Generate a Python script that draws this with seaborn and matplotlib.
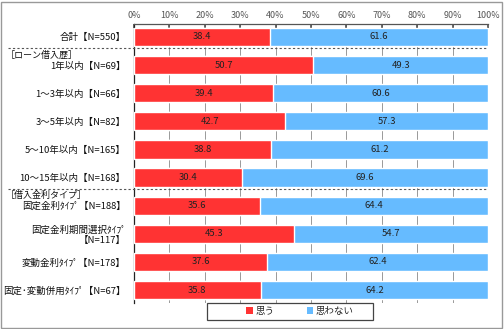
import matplotlib
matplotlib.use("Agg")
import matplotlib.pyplot as plt
import matplotlib.transforms as mtransforms
from matplotlib.patches import Patch, Rectangle
from matplotlib.lines import Line2D
import seaborn as sns
import pandas as pd
import numpy as np

categories = [
    "合計【N=550】",
    "1年以内【N=69】",
    "1～3年以内【N=66】",
    "3～5年以内【N=82】",
    "5～10年以内【N=165】",
    "10～15年以内【N=168】",
    "固定金利ﾀｲﾌﾟ【N=188】",
    "固定金利期間選択ﾀｲﾌﾟ\n【N=117】",
    "変動金利ﾀｲﾌﾟ【N=178】",
    "固定･変動併用ﾀｲﾌﾟ【N=67】",
]
omou = [38.4, 50.7, 39.4, 42.7, 38.8, 30.4, 35.6, 45.3, 37.6, 35.8]
omowanai = [61.6, 49.3, 60.6, 57.3, 61.2, 69.6, 64.4, 54.7, 62.4, 64.2]
series_names = ["思う", "思わない"]
group_headers = ["［ローン借入歴］", "［借入金利タイプ］"]
xticks = [0, 10, 20, 30, 40, 50, 60, 70, 80, 90, 100]

RED = "#FF3333"
BLUE = "#66BBFF"

sns.set_theme(style="white")
plt.rcParams["font.family"] = ["Noto Sans CJK JP", "DejaVu Sans"]

df = pd.DataFrame({"cat": categories, "omou": omou, "omowanai": omowanai})
df["total"] = df["omou"] + df["omowanai"]

fig = plt.figure(figsize=(5.04, 3.29), dpi=100)
ax = fig.add_axes([134/504, 1-303/329, (488-134)/504, (303-24)/329])

sns.barplot(data=df, y="cat", x="total", color=BLUE, orient="h", width=0.65,
            ax=ax, saturation=1, zorder=2)
sns.barplot(data=df, y="cat", x="omou", color=RED, orient="h", width=0.65,
            ax=ax, saturation=1, zorder=3)

for i, (a, b) in enumerate(zip(omou, omowanai)):
    ax.text(a/2, i, f"{a:.1f}", ha="center", va="center", fontsize=6.8, color="#222222", zorder=4)
    ax.text(a + b/2, i, f"{b:.1f}", ha="center", va="center", fontsize=6.8, color="#222222", zorder=4)

ax.set_xlim(0, 100)
ax.set_ylim(9.46, -0.46)
ax.set_xticks(xticks)
ax.set_xticklabels([f"{t}%" for t in xticks], fontsize=6.5, color="#555555")
ax.xaxis.tick_top()
ax.tick_params(axis="x", which="both", direction="in", length=3, color="#555555", pad=3, top=True, bottom=False)
ax.tick_params(axis="y", length=0, pad=6, labelsize=6.8, colors="#111111")
ax.set_xlabel("")
ax.set_ylabel("")
ax.grid(axis="x", color="#999999", linewidth=0.7, zorder=0)
ax.set_axisbelow(True)
for s in ["bottom", "right"]:
    ax.spines[s].set_visible(False)
ax.spines["top"].set_color("#555555")
ax.spines["top"].set_linewidth(0.9)
ax.spines["left"].set_color("#222222")
ax.spines["left"].set_linewidth(0.9)

# group separators and headers
trans = mtransforms.blended_transform_factory(fig.transFigure, ax.transData)
for ysep, yhead, txt in [(0.39, 0.64, group_headers[0]), (5.4, 5.62, group_headers[1])]:
    ln = Line2D([8/504, 488/504], [ysep, ysep], transform=trans, color="#555555",
                linewidth=0.8, linestyle=(0, (2, 2)), clip_on=False)
    fig.add_artist(ln)
    ax.text(6/504, yhead, txt, transform=trans, fontsize=6.5, ha="left", va="center",
            color="#111111", clip_on=False)

# legend
handles = [Patch(facecolor=RED, edgecolor="none", label=series_names[0]),
           Patch(facecolor=BLUE, edgecolor="none", label=series_names[1])]
leg = fig.legend(handles=handles, loc="center", bbox_to_anchor=(300/504, 1-311.5/329),
                 ncol=2, frameon=False,
                 fontsize=6.8, handlelength=0.7, handleheight=0.7, handletextpad=0.3,
                 columnspacing=3.4, borderpad=0.2)
fig.add_artist(Rectangle((207/504, 1-320/329), 166/504, 17/329, transform=fig.transFigure,
                         fill=False, edgecolor="#444444", linewidth=0.9))

# outer border
fig.add_artist(Rectangle((1/504, 1/329), 501/504, 326/329, transform=fig.transFigure,
                         fill=False, edgecolor="#999999", linewidth=1.0))

fig.savefig("out.png", dpi=100)
